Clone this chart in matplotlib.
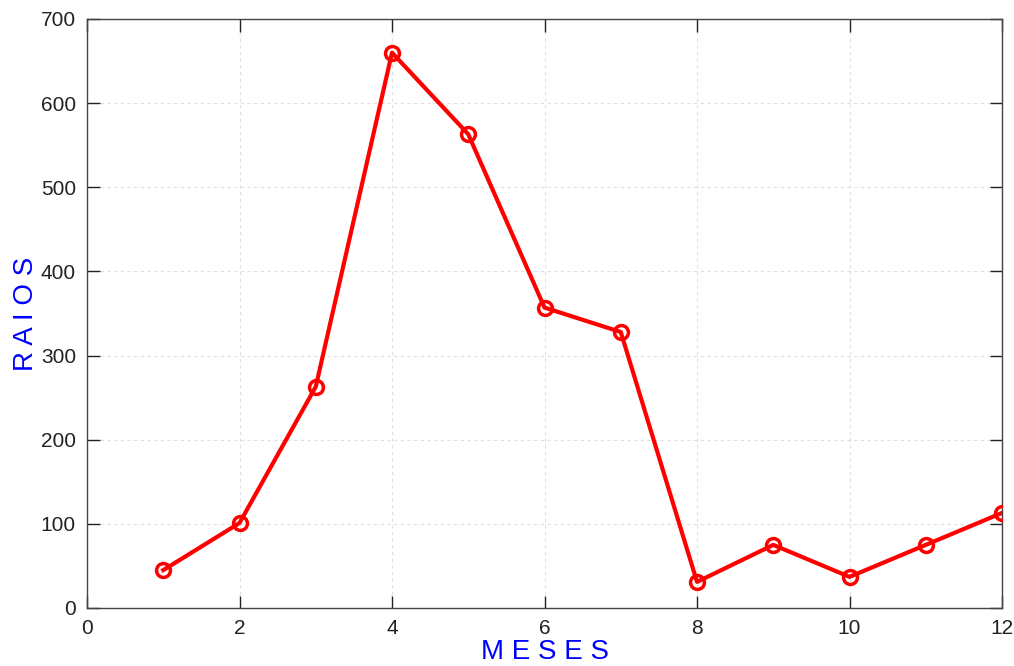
import numpy as np
import matplotlib.pyplot as plt

meses = [1, 2, 3, 4, 5, 6, 7, 8, 9, 10, 11, 12]
raios = [45, 101, 263, 660, 563, 357, 328, 31, 75, 37, 75, 113]

plt.rcParams['font.family'] = ['Liberation Sans', 'DejaVu Sans']

fig = plt.figure(figsize=(10.14, 6.66), dpi=100)
ax = fig.add_axes([0.0858, 0.0871, 0.9024, 0.8844])

ax.plot(meses, raios, color='#ff0000', lw=3, marker='o', markersize=10,
        markerfacecolor='none', markeredgewidth=2.5, zorder=3)

ax.set_xlim(0, 12)
ax.set_ylim(0, 700)
ax.set_xticks(np.arange(0, 13, 2))
ax.set_yticks(np.arange(0, 701, 100))
ax.grid(True, color='#e0e0e0', linestyle=(0, (3, 3)), lw=0.8)
ax.tick_params(direction='in', top=True, right=True, length=9, width=1,
               labelsize=15, pad=8, colors='#222222')
for s in ax.spines.values():
    s.set_color('#444444')
    s.set_linewidth(1)

ax.set_xlabel('M E S E S', color='#0000ff', fontsize=20, labelpad=1)
ax.set_ylabel('R A I O S', color='#0000ff', fontsize=20, labelpad=1)

fig.savefig('out.png', dpi=100)
